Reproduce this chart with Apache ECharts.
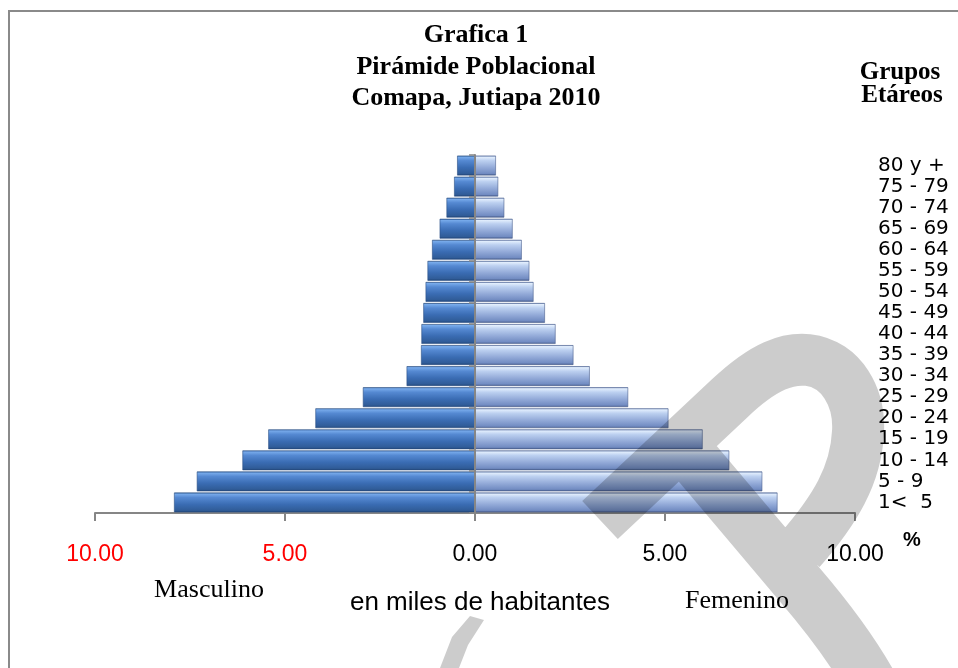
<!DOCTYPE html>
<html>
<head>
<meta charset="utf-8">
<script src="https://cdn.jsdelivr.net/npm/echarts@6/dist/echarts.min.js"></script>
<style>
html,body{margin:0;padding:0;background:#fff;}
#chart{width:958px;height:668px;}
</style>
</head>
<body>
<div id="chart"></div>
<script>
// Age groups, bottom to top
var ageGroups = ['1<  5','5 - 9','10 - 14','15 - 19','20 - 24','25 - 29','30 - 34','35 - 39','40 - 44','45 - 49','50 - 54','55 - 59','60 - 64','65 - 69','70 - 74','75 - 79','80 y +'];
// Masculino (%), bottom to top
var masculino = [7.92, 7.32, 6.12, 5.44, 4.20, 2.95, 1.80, 1.42, 1.41, 1.36, 1.30, 1.25, 1.13, 0.93, 0.75, 0.55, 0.47];
// Femenino (%), bottom to top
var femenino = [7.96, 7.56, 6.69, 5.99, 5.09, 4.03, 3.02, 2.59, 2.12, 1.84, 1.54, 1.43, 1.23, 0.99, 0.77, 0.61, 0.55];
// Axis ticks
var axisMin = -10, axisMax = 10, axisStep = 5;

var chart = echarts.init(document.getElementById('chart'), null, {renderer: 'canvas'});

var maleGrad = new echarts.graphic.LinearGradient(0, 0, 0, 1, [
  {offset: 0, color: '#2b5690'},
  {offset: 0.07, color: '#78abeb'},
  {offset: 0.25, color: '#5589d2'},
  {offset: 0.6, color: '#3a6cb3'},
  {offset: 0.9, color: '#305c98'},
  {offset: 1, color: '#1f4374'}
]);
var femGrad = new echarts.graphic.LinearGradient(0, 0, 0, 1, [
  {offset: 0, color: '#5c76aa'},
  {offset: 0.07, color: '#e2eefd'},
  {offset: 0.25, color: '#bcd0f0'},
  {offset: 0.6, color: '#93aad8'},
  {offset: 0.9, color: '#728cc2'},
  {offset: 1, color: '#465b8b'}
]);

var serifB = '"Liberation Serif", "Times New Roman", serif';
var sans = '"Liberation Sans", Arial, sans-serif';

function txt(text, x, y, size, family, weight) {
  return {
    type: 'text', x: x, y: y, z: 50,
    style: {text: text, fill: '#000', fontSize: size, fontFamily: family, fontWeight: weight || 'normal', align: 'center', verticalAlign: 'middle'}
  };
}

// decorative watermark shape (not data)
var wmElems = [];
try {
  var WM = echarts.graphic.extendShape({
    shape: {},
    buildPath: function (ctx) {
      ctx.moveTo(600, 520);
      ctx.lineTo(730, 398);
      ctx.bezierCurveTo(765, 365, 788, 358, 808, 360);
      ctx.bezierCurveTo(842, 364, 860, 398, 858, 432);
      ctx.bezierCurveTo(856, 475, 835, 510, 800, 550);
      ctx.moveTo(665, 425);
      ctx.lineTo(800, 585);
      ctx.bezierCurveTo(830, 620, 860, 660, 880, 700);
    }
  });
  echarts.graphic.registerShape('wmShape', WM);
  wmElems.push({type: 'wmShape', z: 100, silent: true, shape: {}, style: {fill: 'none', stroke: 'rgba(0,0,0,0.2)', lineWidth: 52}});
} catch (e) {}
wmElems.push({
  type: 'polygon', z: 100, silent: true,
  shape: {points: [[440, 668], [452, 637], [470, 616], [484, 620], [468, 645], [459, 668]]},
  style: {fill: 'rgba(0,0,0,0.2)'}
});

var option = {
  animation: false,
  backgroundColor: '#fff',
  grid: {left: 95, right: 103, top: 155, bottom: 155, containLabel: false},
  xAxis: {
    type: 'value', min: axisMin, max: axisMax, interval: axisStep,
    splitLine: {show: false},
    axisLine: {show: true, lineStyle: {color: '#868686', width: 2}},
    axisTick: {show: true, length: 8, lineStyle: {color: '#868686', width: 2}},
    axisLabel: {
      margin: 30, showMinLabel: true, showMaxLabel: true,
      formatter: function (v) {
        return v < 0 ? '{r|' + Math.abs(v).toFixed(2) + '}' : '{k|' + v.toFixed(2) + '}';
      },
      rich: {
        r: {color: '#ff0000', fontSize: 23, fontFamily: sans},
        k: {color: '#000000', fontSize: 23, fontFamily: sans}
      }
    }
  },
  yAxis: [
    {
      type: 'category', data: ageGroups, position: 'right',
      axisLine: {show: false}, axisTick: {show: false},
      axisLabel: {interval: 0, margin: 23, align: 'left', color: '#000', fontSize: 20, fontFamily: '"DejaVu Sans", sans-serif'}
    },
    {
      type: 'category', data: ageGroups, position: 'left', z: 10,
      axisLine: {show: true, onZero: true, onZeroAxisIndex: 0, lineStyle: {color: '#868686', width: 2}},
      axisTick: {show: true, interval: 0, length: 6, lineStyle: {color: '#868686', width: 1.5}},
      axisLabel: {show: false}
    }
  ],
  series: [
    {
      name: 'Masculino', type: 'bar', stack: 'p', yAxisIndex: 0,
      barCategoryGap: '6%',
      data: masculino.map(function (v) { return -v; }),
      itemStyle: {color: maleGrad, borderColor: '#2a4f85', borderWidth: 0.6}
    },
    {
      name: 'Femenino', type: 'bar', stack: 'p', yAxisIndex: 0,
      barCategoryGap: '6%',
      data: femenino,
      itemStyle: {color: femGrad, borderColor: '#4a5f8e', borderWidth: 0.6}
    }
  ],
  graphic: [
    {type: 'rect', z: 60, shape: {x: 9, y: 11, width: 1000, height: 700}, style: {fill: 'none', stroke: '#8a8a8a', lineWidth: 2}},
    txt('Grafica 1', 476, 35, 26, serifB, 'bold'),
    txt('Pirámide Poblacional', 476, 67, 26, serifB, 'bold'),
    txt('Comapa, Jutiapa 2010', 476, 98, 26, serifB, 'bold'),
    txt('Grupos', 900, 73, 25, serifB, 'bold'),
    txt('Etáreos', 902, 96, 25, serifB, 'bold'),
    txt('%', 912, 540, 20, sans, 'bold'),
    txt('Masculino', 209, 590, 26, serifB, 'normal'),
    txt('Femenino', 737, 601, 26, serifB, 'normal'),
    txt('en miles de habitantes', 480, 603, 26, sans, 'normal')
  ].concat(wmElems)
};
chart.setOption(option);
</script>
</body>
</html>
